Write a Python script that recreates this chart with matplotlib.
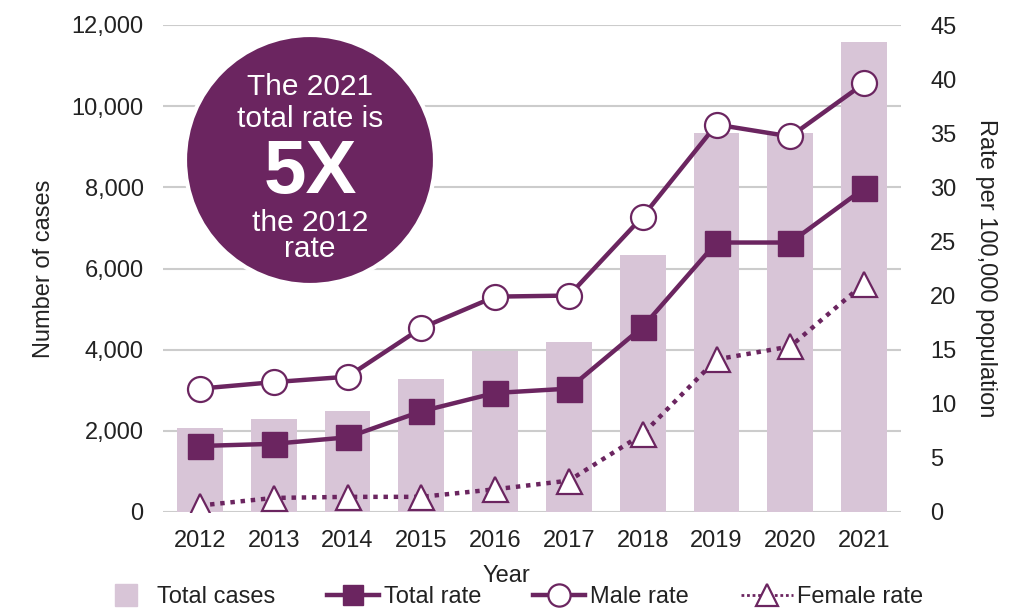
import numpy as np
import matplotlib.pyplot as plt
from matplotlib.lines import Line2D
from matplotlib.patches import Ellipse

plt.rcParams['font.family'] = ['Liberation Sans', 'DejaVu Sans']

# Data
years = ["2012", "2013", "2014", "2015", "2016", "2017", "2018", "2019", "2020", "2021"]
total_cases = [2080, 2290, 2480, 3270, 3970, 4200, 6340, 9340, 9340, 11580]
total_rate = [6.1, 6.3, 6.9, 9.3, 11.0, 11.4, 17.1, 24.9, 24.9, 29.9]
male_rate = [11.4, 12.0, 12.5, 17.0, 19.9, 20.0, 27.3, 35.8, 34.7, 39.6]
female_rate = [0.6, 1.3, 1.4, 1.4, 2.1, 2.9, 7.2, 14.1, 15.3, 21.1]

left_ticks = [0, 2000, 4000, 6000, 8000, 10000, 12000]
right_ticks = [0, 5, 10, 15, 20, 25, 30, 35, 40, 45]

purple = "#6B2560"
bar_col = "#D8C5D7"
grid_col = "#CCCCCC"
txt_col = "#222222"
fs = 17

fig = plt.figure(figsize=(10.33, 6.13), dpi=100)
ax = fig.add_axes([163/1033, 1 - 512/613, (901 - 163)/1033, (512 - 25)/613])
ax2 = ax.twinx()

x = np.arange(len(years))

# Bars - total cases
ax.bar(x, total_cases, width=0.62, color=bar_col, zorder=2)
ax.set_ylim(0, 12000)
ax.set_xlim(-0.5, len(years) - 0.5)
ax.set_yticks(left_ticks)
ax.set_yticklabels([f"{v:,}" for v in left_ticks])
ax.set_xticks(x)
ax.set_xticklabels(years)
ax.yaxis.grid(True, color=grid_col, linewidth=1.5, zorder=0)
ax.set_axisbelow(True)
ax.tick_params(axis='y', length=0, pad=14, labelsize=fs, labelcolor=txt_col)
ax.tick_params(axis='x', length=0, pad=13, labelsize=fs, labelcolor=txt_col)
ax.set_ylabel("Number of cases", fontsize=fs, color=txt_col, labelpad=12)

# Lines - rates
ax2.plot(x, total_rate, color=purple, linewidth=3.2, marker='s', markersize=18,
         markerfacecolor=purple, markeredgecolor=purple, zorder=3)
ax2.plot(x, male_rate, color=purple, linewidth=3.2, marker='o', markersize=18,
         markerfacecolor='white', markeredgecolor=purple, markeredgewidth=1.6, zorder=3)
ax2.plot(x, female_rate, color=purple, linewidth=3.2, linestyle=(0, (1, 1.3)),
         dash_capstyle='butt', marker='^', markersize=18,
         markerfacecolor='white', markeredgecolor=purple, markeredgewidth=1.6, zorder=3)
ax2.set_ylim(0, 45)
ax2.set_yticks(right_ticks)
ax2.tick_params(axis='y', length=0, pad=21, labelsize=fs, labelcolor=txt_col)
ax2.set_ylabel("Rate per 100,000 population", fontsize=fs, color=txt_col,
               rotation=270, labelpad=29)

for a in (ax, ax2):
    for s in a.spines.values():
        s.set_visible(False)

fig.text(506/1033, 1 - 576/613, "Year", fontsize=fs, color=txt_col, ha='center', va='center')

# Legend
handles = [
    Line2D([], [], linestyle='none', marker='s', markersize=16,
           markerfacecolor=bar_col, markeredgecolor=bar_col),
    Line2D([], [], color=purple, linewidth=3.2, marker='s', markersize=15,
           markerfacecolor=purple, markeredgecolor=purple),
    Line2D([], [], color=purple, linewidth=3.2, marker='o', markersize=16,
           markerfacecolor='white', markeredgecolor=purple, markeredgewidth=1.6),
    Line2D([], [], color=purple, linewidth=2, linestyle=(0, (1, 1)), marker='^',
           markersize=16, markerfacecolor='white', markeredgecolor=purple, markeredgewidth=1.6),
]
labels = ["Total cases", "Total rate", "Male rate", "Female rate"]
fig.legend(handles, labels, loc='center', bbox_to_anchor=(512/1033, 1 - 597/613),
           ncol=4, frameon=False, fontsize=fs, handlelength=2.2, columnspacing=2.2,
           handletextpad=0.2, labelcolor=txt_col, borderpad=0.2)

# Callout circle
circ = Ellipse((310/1033, 1 - 160/613), 250/1033, 250/613, transform=fig.transFigure,
               facecolor=purple, edgecolor='white', linewidth=3, zorder=10)
fig.add_artist(circ)
cx = 310/1033
fig.text(cx, 1 - 95/613, "The 2021", fontsize=21.5, color='white', ha='center', va='baseline', zorder=11)
fig.text(cx, 1 - 127/613, "total rate is", fontsize=21.5, color='white', ha='center', va='baseline', zorder=11)
fig.text(cx, 1 - 192.5/613, "5X", fontsize=55, fontweight='bold', color='white', ha='center', va='baseline', zorder=11)
fig.text(cx, 1 - 231.5/613, "the 2012", fontsize=21.5, color='white', ha='center', va='baseline', zorder=11)
fig.text(cx, 1 - 257/613, "rate", fontsize=21.5, color='white', ha='center', va='baseline', zorder=11)

fig.savefig("out.png", dpi=100)
